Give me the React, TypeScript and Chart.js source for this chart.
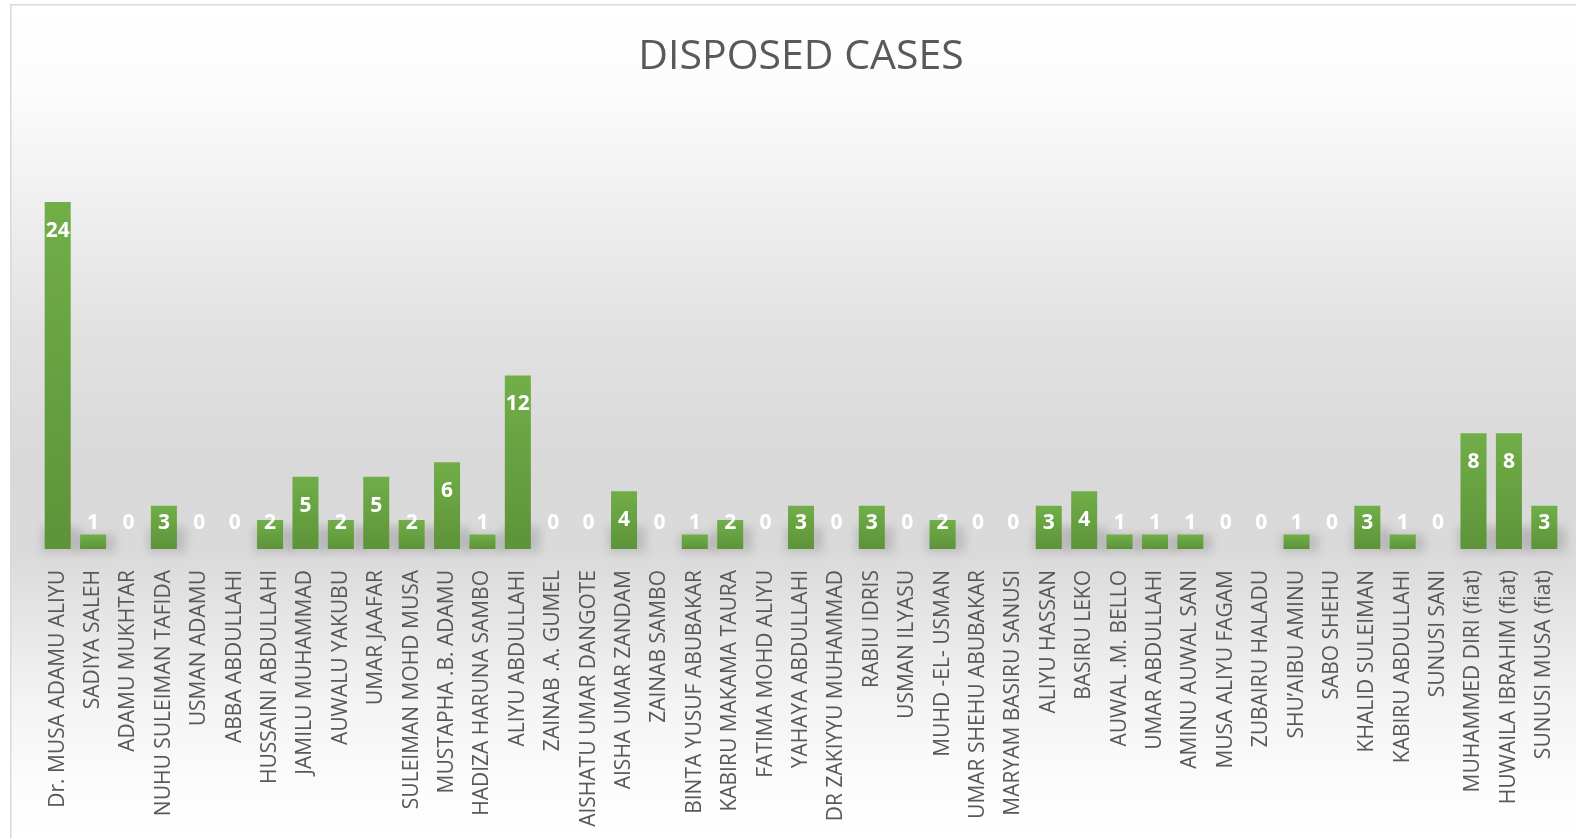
import React, { useEffect, useRef } from "react";
import { Chart, registerables } from "chart.js";

Chart.register(...registerables);

const TITLE = "DISPOSED CASES";

const categories: string[] = [
  "Dr. MUSA ADAMU ALIYU",
  "SADIYA SALEH",
  "ADAMU MUKHTAR",
  "NUHU SULEIMAN TAFIDA",
  "USMAN ADAMU",
  "ABBA ABDULLAHI",
  "HUSSAINI ABDULLAHI",
  "JAMILU MUHAMMAD",
  "AUWALU YAKUBU",
  "UMAR JAAFAR",
  "SULEIMAN MOHD MUSA",
  "MUSTAPHA .B. ADAMU",
  "HADIZA HARUNA SAMBO",
  "ALIYU ABDULLAHI",
  "ZAINAB .A. GUMEL",
  "AISHATU UMAR DANGOTE",
  "AISHA UMAR ZANDAM",
  "ZAINAB SAMBO",
  "BINTA YUSUF ABUBAKAR",
  "KABIRU MAKAMA TAURA",
  "FATIMA MOHD ALIYU",
  "YAHAYA ABDULLAHI",
  "DR ZAKIYYU MUHAMMAD",
  "RABIU IDRIS",
  "USMAN ILYASU",
  "MUHD -EL- USMAN",
  "UMAR SHEHU ABUBAKAR",
  "MARYAM BASIRU SANUSI",
  "ALIYU HASSAN",
  "BASIRU LEKO",
  "AUWAL .M. BELLO",
  "UMAR ABDULLAHI",
  "AMINU AUWAL SANI",
  "MUSA ALIYU FAGAM",
  "ZUBAIRU HALADU",
  "SHU\u2019AIBU AMINU",
  "SABO SHEHU",
  "KHALID SULEIMAN",
  "KABIRU ABDULLAHI",
  "SUNUSI SANI",
  "MUHAMMED DIRI (fiat)",
  "HUWAILA IBRAHIM (fiat)",
  "SUNUSI MUSA (fiat)",
];

const disposedCases: number[] = [
  24, 1, 0, 3, 0, 0, 2, 5, 2, 5, 2, 6, 1, 12, 0, 0, 4, 0, 1, 2, 0, 3, 0, 3, 0, 2,
  0, 0, 3, 4, 1, 1, 1, 0, 0, 1, 0, 3, 1, 0, 8, 8, 3,
];

const Y_MAX = 28;

const backgroundPlugin = {
  id: "bgPanel",
  beforeDraw(chart: any) {
    const { ctx, width, height } = chart;
    ctx.save();
    ctx.fillStyle = "#ffffff";
    ctx.fillRect(0, 0, width, height);
    const g = ctx.createLinearGradient(0, 4, 0, height);
    g.addColorStop(0, "#ffffff");
    g.addColorStop(0.1, "#fcfcfc");
    g.addColorStop(0.24, "#efefef");
    g.addColorStop(0.4, "#e1e1e1");
    g.addColorStop(0.55, "#d9d9d9");
    g.addColorStop(0.66, "#dadada");
    g.addColorStop(0.72, "#e3e3e3");
    g.addColorStop(0.84, "#f4f4f4");
    g.addColorStop(0.95, "#fdfdfd");
    g.addColorStop(1, "#ffffff");
    ctx.fillStyle = g;
    ctx.fillRect(10, 4, width - 10, height - 4);
    ctx.strokeStyle = "#d9d9d9";
    ctx.lineWidth = 1.5;
    ctx.beginPath();
    ctx.moveTo(10.75, height);
    ctx.lineTo(10.75, 4.75);
    ctx.lineTo(width, 4.75);
    ctx.stroke();
    ctx.restore();
  },
};

const shadowPlugin = {
  id: "barShadow",
  beforeDatasetsDraw(chart: any) {
    const meta = chart.getDatasetMeta(0);
    const ctx = chart.ctx;
    ctx.save();
    ctx.filter = "blur(4px)";
    ctx.fillStyle = "rgba(0,0,0,0.13)";
    meta.data.forEach((bar: any, i: number) => {
      if (disposedCases[i] <= 0) return;
      const w = bar.width;
      const h = Math.min(bar.base - bar.y, 22);
      ctx.fillRect(bar.x - w / 2 - 3, bar.base - h, w + 12, h + 3);
    });
    ctx.restore();
  },
};

const labelPlugin = {
  id: "valueLabels",
  afterDatasetsDraw(chart: any) {
    const meta = chart.getDatasetMeta(0);
    const ctx = chart.ctx;
    ctx.save();
    ctx.font = 'bold 21px "Open Sans"';
    ctx.fillStyle = "#ffffff";
    ctx.textAlign = "center";
    ctx.textBaseline = "middle";
    meta.data.forEach((bar: any, i: number) => {
      const cy = Math.min(bar.y + 29, bar.base - 26);
      ctx.fillText(String(disposedCases[i]), bar.x, cy);
    });
    ctx.restore();
  },
};

export default function App() {
  const ref = useRef<HTMLCanvasElement | null>(null);

  useEffect(() => {
    if (!ref.current) return;
    const chart = new Chart(ref.current, {
      type: "bar",
      data: {
        labels: categories,
        datasets: [
          {
            label: TITLE,
            data: disposedCases,
            backgroundColor: (c: any) => {
              const ch = c.chart;
              if (!ch.chartArea || c.type !== "data") return "#68a541";
              const ys = ch.scales.y;
              const top = ys.getPixelForValue(c.raw);
              const base = ys.getPixelForValue(0);
              if (base - top < 1) return "#68a541";
              const g = ch.ctx.createLinearGradient(0, top, 0, base);
              g.addColorStop(0, "#71ae48");
              g.addColorStop(1, "#5d9339");
              return g;
            },
            borderWidth: 0,
            categoryPercentage: 1,
            barPercentage: 0.735,
          },
        ],
      },
      options: {
        animation: false,
        responsive: false,
        devicePixelRatio: 1,
        layout: { padding: { left: 40, right: 14, top: 33, bottom: 0 } },
        plugins: {
          legend: { display: false },
          tooltip: { enabled: false },
          title: {
            display: true,
            text: TITLE,
            color: "#595959",
            font: { family: "'Open Sans'", size: 41, weight: "normal" },
            padding: { top: 0, bottom: 62 },
          },
        },
        scales: {
          x: {
            grid: { display: false },
            border: { display: false },
            ticks: {
              color: "#595959",
              font: { family: "'Open Sans'", size: 21 },
              minRotation: 90,
              maxRotation: 90,
              autoSkip: false,
              padding: 13,
            },
            afterFit: (s: any) => {
              s.height = 289;
              s.paddingLeft = 0;
              s.paddingRight = 0;
            },
          },
          y: { display: false, min: 0, max: Y_MAX },
        },
      },
      plugins: [backgroundPlugin, shadowPlugin, labelPlugin],
    });
    return () => chart.destroy();
  }, []);

  return (
    <div style={{ position: "absolute", left: 0, top: 0, width: 1576, height: 838 }}>
      <canvas ref={ref} width={1576} height={838} style={{ display: "block" }} />
    </div>
  );
}
